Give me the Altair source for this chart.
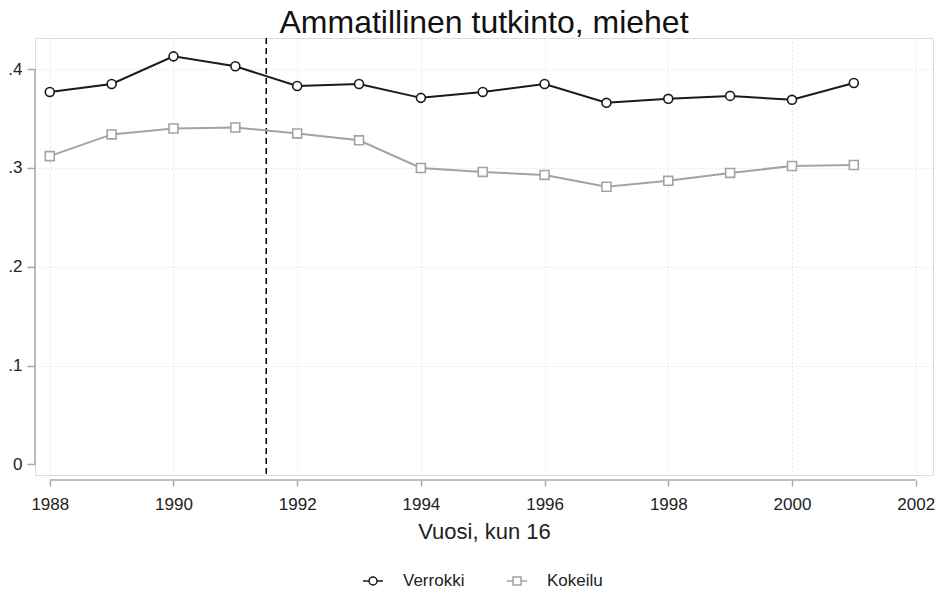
import altair as alt
import pandas as pd

# ---- data ----
years = list(range(1988, 2002))
verrokki = [0.377, 0.385, 0.413, 0.403, 0.383, 0.385, 0.371,
            0.377, 0.385, 0.366, 0.370, 0.373, 0.369, 0.386]
kokeilu = [0.312, 0.334, 0.340, 0.341, 0.335, 0.328, 0.300,
           0.296, 0.293, 0.281, 0.287, 0.295, 0.302, 0.303]
series_names = ["Verrokki", "Kokeilu"]
x_ticks = [1988, 1990, 1992, 1994, 1996, 1998, 2000, 2002]
y_ticks = [0, 0.1, 0.2, 0.3, 0.4]
cutoff_year = [1991.5]
title_text = "Ammatillinen tutkinto, miehet"
x_title = "Vuosi, kun 16"

df = pd.DataFrame({
    "year": years * 2,
    "value": verrokki + kokeilu,
    "series": [series_names[0]] * len(years) + [series_names[1]] * len(years),
})

FONT = "Liberation Sans"
colors = ["#1a1a1a", "#a3a3a3"]
axis_gray = "#a8a8a8"
grid_gray = "#d2d2d2"

xscale = alt.Scale(domain=[1987.761, 2002.28], nice=False, zero=False)
yscale = alt.Scale(domain=[-0.0108, 0.4316], nice=False, zero=False)
cscale = alt.Scale(domain=series_names, range=colors)

xaxis = alt.Axis(values=x_ticks, format="d", offset=5, domain=False,
                 tickSize=6, tickColor=axis_gray, tickWidth=1.5,
                 labelFontSize=17, labelFont=FONT, labelColor="#222",
                 labelPadding=10, grid=True, gridColor=grid_gray,
                 gridDash=[1, 3], gridWidth=1,
                 title=x_title, titleFont=FONT, titleFontSize=22,
                 titleFontWeight="normal", titleColor="#222", titlePadding=9)
yaxis = alt.Axis(values=y_ticks, domain=False, tickSize=8, tickColor=axis_gray,
                 tickWidth=1.5, labelFontSize=17, labelFont=FONT, labelColor="#222",
                 labelPadding=5,
                 labelExpr="datum.value == 0 ? '0' : replace(format(datum.value, '.1f'), '0.', '.')",
                 grid=True, gridColor=grid_gray, gridDash=[1, 3], gridWidth=1,
                 gridOpacity=alt.condition("datum.value == 0", alt.value(0), alt.value(1)),
                 title=None)

X = lambda f: alt.X(f, scale=xscale, axis=xaxis)
Y = lambda f: alt.Y(f, scale=yscale, axis=yaxis)

base = alt.Chart(df)

lines = base.mark_line(strokeWidth=2).encode(
    x=X("year:Q"), y=Y("value:Q"),
    color=alt.Color("series:N", scale=cscale, legend=None),
)

points = base.mark_point(filled=False, fill="white", opacity=1, size=80,
                         strokeWidth=1.6).encode(
    x=X("year:Q"), y=Y("value:Q"),
    color=alt.Color("series:N", scale=cscale, legend=None),
    shape=alt.Shape("series:N",
                    scale=alt.Scale(domain=series_names, range=["circle", "square"]),
                    legend=None),
)

path_c = "M-1,0L-0.42,0M0.42,0L1,0M-0.4,0A0.4,0.4,0,1,1,0.4,0A0.4,0.4,0,1,1,-0.4,0Z"
path_s = "M-1,0L-0.42,0M0.42,0L1,0M-0.4,-0.4L0.4,-0.4L0.4,0.4L-0.4,0.4Z"

leg = alt.Legend(orient="none", legendX=327, legendY=532, direction="horizontal",
                 title=None, symbolSize=400, symbolStrokeWidth=1.5,
                 labelFontSize=17, labelFont=FONT, labelColor="#222",
                 labelOffset=19, columnPadding=39, padding=0)

legend_layer = base.transform_filter("false").mark_point(
    filled=False, opacity=1, strokeWidth=1.5).encode(
    x=X("year:Q"), y=Y("value:Q"),
    shape=alt.Shape("series:N", scale=alt.Scale(domain=series_names, range=[path_c, path_s]),
                    legend=leg),
    stroke=alt.Stroke("series:N", scale=alt.Scale(domain=series_names, range=colors),
                      legend=leg),
)

cut = alt.Chart(pd.DataFrame({"year": cutoff_year})).mark_rule(
    color="black", strokeDash=[6, 4], strokeWidth=1.5).encode(x=X("year:Q"))

xline = alt.Chart(pd.DataFrame({"a": [x_ticks[0]], "b": [x_ticks[-1]]})).mark_rule(
    color=axis_gray, strokeWidth=1.5).encode(
    x=X("a:Q"), x2="b:Q", y=alt.value(442))

yline = alt.Chart(pd.DataFrame({"a": [y_ticks[0]], "b": [y_ticks[-1]]})).mark_rule(
    color=axis_gray, strokeWidth=1.5).encode(
    y=Y("a:Q"), y2="b:Q", x=alt.value(0))

chart = alt.layer(cut, xline, yline, lines, points, legend_layer).resolve_scale(
    shape="independent", stroke="independent"
).properties(
    width=898, height=437,
    title=alt.TitleParams(title_text, fontSize=32, font=FONT, fontWeight="normal",
                          color="#111", anchor="middle", offset=0, dy=3),
    autosize=alt.AutoSizeParams(type="none"),
    padding={"left": 27, "top": 30, "right": 2, "bottom": 114},
).configure_view(stroke=None).configure(background="white")

chart.save("out.html", embed_options={"renderer": "svg", "actions": False})
